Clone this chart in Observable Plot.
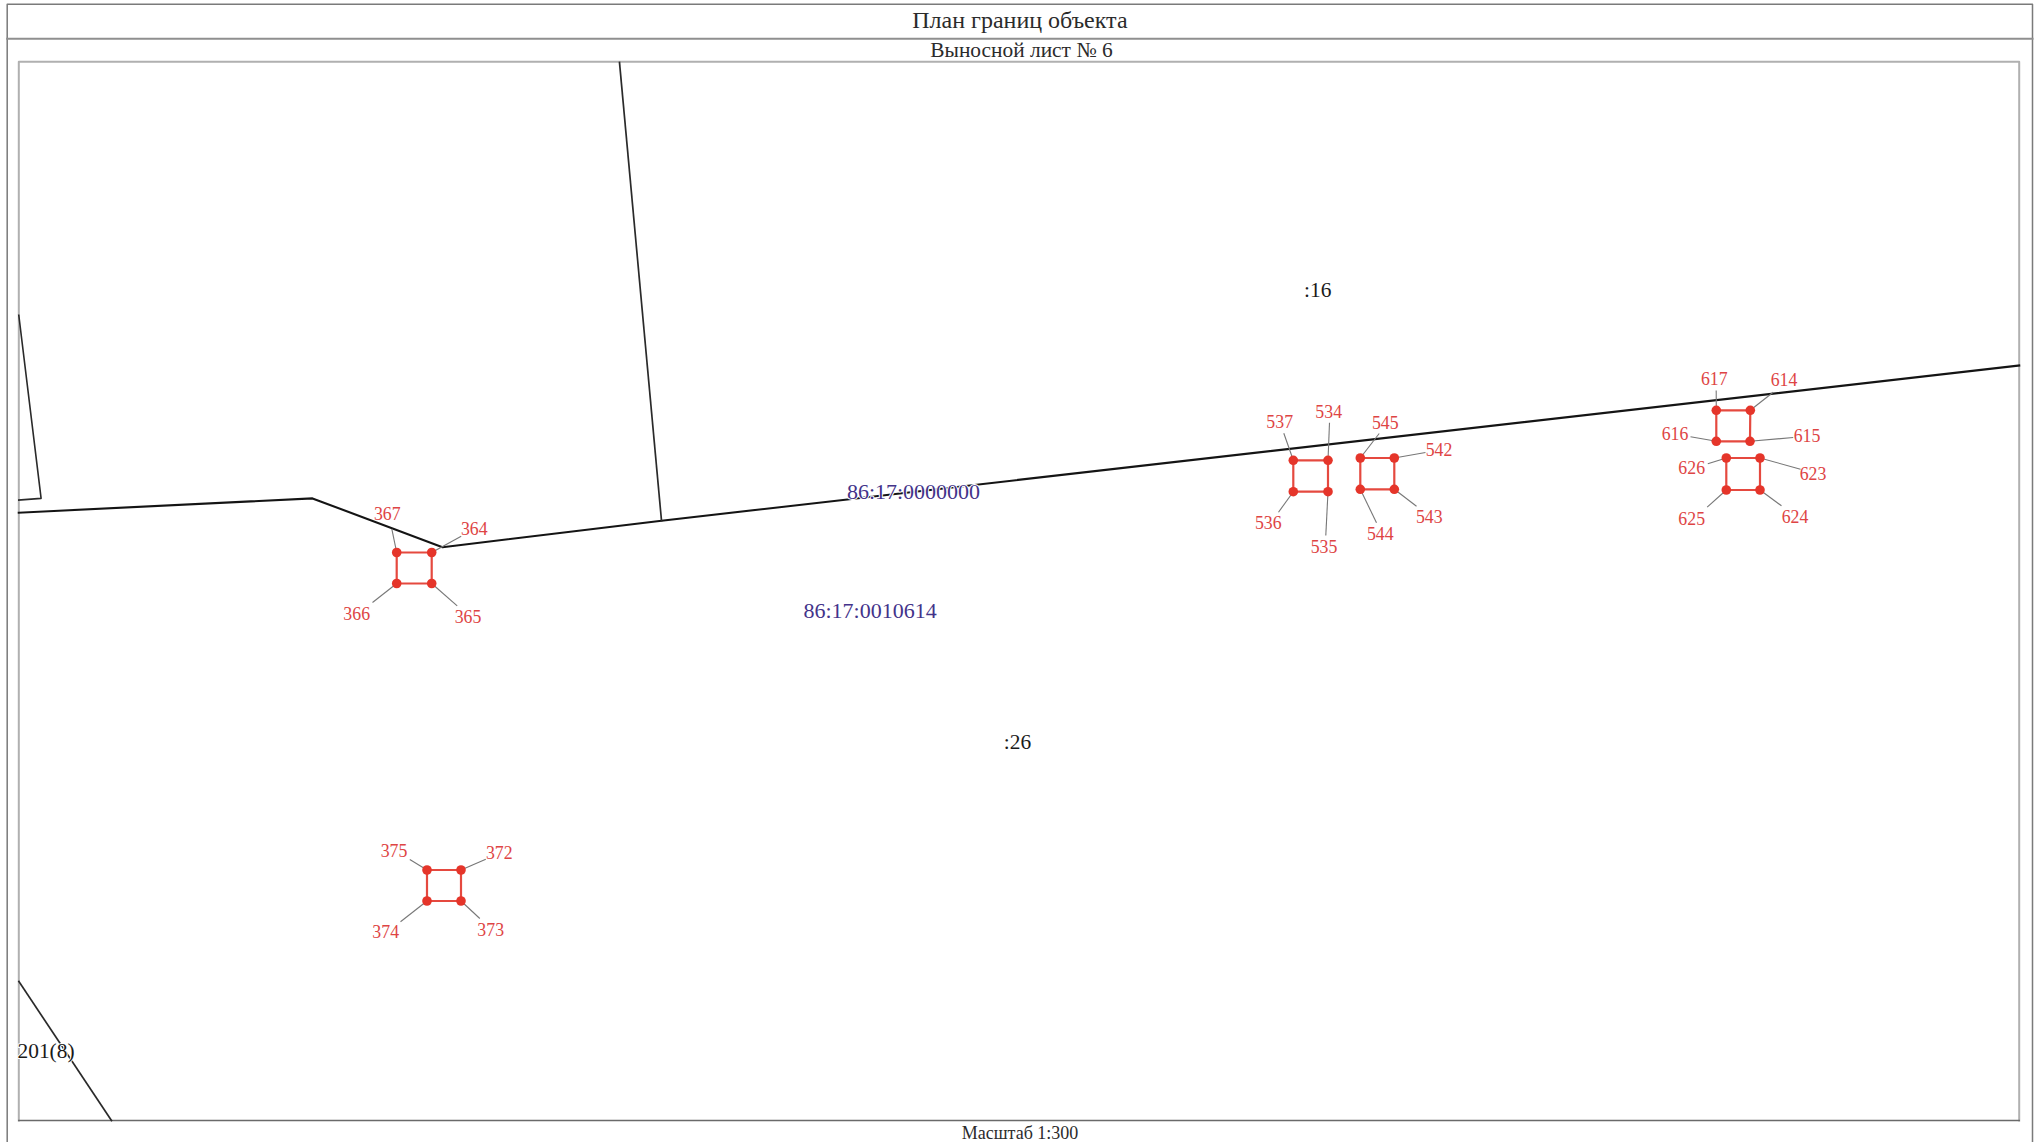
<!DOCTYPE html>
<html>
<head>
<meta charset="utf-8">
<style>html,body{margin:0;padding:0;background:#fff}svg{display:block}</style>
<script src="https://cdn.jsdelivr.net/npm/d3@7"></script>
<script src="https://cdn.jsdelivr.net/npm/@observablehq/plot@0.6"></script>
</head>
<body>
<script>
// Survey points: number, corner position, leader-line end, label position
const pointIds = [364,365,366,367, 372,373,374,375, 534,535,536,537, 542,543,544,545, 614,615,616,617, 623,624,625,626];
const cornerX  = [431.2,431.2,396.2,396.2, 460.5,460.5,426.5,426.5, 1327.5,1327.5,1292.8,1292.8, 1393.8,1393.8,1359.8,1359.8, 1749.8,1749.5,1715.8,1715.8, 1759.5,1759.5,1725.8,1725.8];
const cornerY  = [552,583,583,552, 869.5,900.5,900.5,869.5, 459.8,491.2,491.2,459.8, 457.5,488.8,488.8,457.5, 409.8,440.8,440.8,409.8, 457.5,489.5,489.5,457.5];
const leaderX  = [460.7,456.7,372,391.3, 485.3,479.3,400,409.3, 1329,1325.3,1278,1283.3, 1425,1416,1376,1378.7, 1772.7,1792.7,1690,1715.7, 1800,1781,1706.7,1707.3];
const leaderY  = [535.7,605.3,602,528.3, 858.7,918,921.3,859, 422.3,535,511.7,432.7, 452,505.7,522.3,433, 391.7,437,436.3,390, 468.7,505.3,506.7,463.3];
const labelX   = [473.8,467.5,356.2,386.8, 498.8,490.2,385.2,393.5, 1328.2,1323.5,1267.8,1279.2, 1438.5,1428.8,1379.8,1384.8, 1783.5,1806.5,1674.5,1713.8, 1812.5,1794.5,1691.2,1691.2];
const labelY   = [528.3,616.5,613.3,513.6, 852.4,929.4,931.3,850.8, 411.6,546.5,523,422, 449.5,517,534,422.3, 379.6,435.5,434,378.6, 473.3,516.6,518.6,467.3];

// Parcel boundaries
const boundaryMain   = {x:[18.3,312,442,661,2018.7], y:[512.2,497.9,546.7,520.2,365]};
const boundaryBranch = {x:[619,661], y:[61.9,520.2]};
const boundaryWest   = {x:[18.3,40.6,18.3], y:[314.8,497.9,499.6]};
const boundarySouth  = {x:[18.4,111], y:[981,1120]};

// Sheet frame
const outerFrame = {x:[6.7,6.7,2032,2032], y:[1142,3.7,3.7,1142]};
const titleRule  = {x:[6.7,2032], y:[38.3,38.3]};
const innerSides = {x:[18.3,18.3,2018.7,2018.7], y:[1120,61.3,61.3,1120]};
const innerFoot  = {x:[18.3,2018.7], y:[1120,1120]};

// Texts
const sheetTexts = ["План границ объекта","Выносной лист № 6","Масштаб 1:300"];
const sheetTextX = [1019.4,1021,1019.5];
const sheetTextY = [19.6,49.8,1132.5];
const sheetTextSize = [24,21.4,18];
const parcelNames = [":16",":26","201(8)"];
const parcelX = [1317.2,1017,45.5];
const parcelY = [290,741.7,1050.2];
const cadastreNames = ["86:17:0000000","86:17:0010614"];
const cadastreX = [913,869.6];
const cadastreY = [491.5,610.7];

const rows = o => o.x.map((x,i)=>({x,y:o.y[i]}));
const points = pointIds.map((id,i)=>({id,x:cornerX[i],y:cornerY[i],lx:leaderX[i],ly:leaderY[i],tx:labelX[i],ty:labelY[i],sq:Math.floor(i/4)}));
const rings = d3.range(pointIds.length/4).flatMap(s=>{
  const r = points.filter(p=>p.sq===s);
  return [...r, r[0]];
});
const path = (o,stroke,strokeWidth)=>Plot.line(rows(o),{x:"x",y:"y",stroke,strokeWidth,strokeLinecap:"square"});
const font = "Liberation Serif";

const chart = Plot.plot({
  width:2042, height:1142,
  margin:0,
  style:{background:"#fff",fontFamily:font},
  x:{domain:[0,2042],axis:null},
  y:{domain:[0,1142],reverse:true,axis:null},
  marks:[
    path(outerFrame,"#7a7a7a",1.5),
    path(titleRule,"#8f8f8f",2),
    path(innerSides,"#b0b0b0",2),
    path(innerFoot,"#6a6a6a",1.5),
    path(boundaryMain,"#141414",2.1),
    path(boundaryBranch,"#2a2a2a",1.7),
    path(boundaryWest,"#2a2a2a",1.6),
    path(boundarySouth,"#2a2a2a",1.7),
    Plot.link(points,{x1:"x",y1:"y",x2:"lx",y2:"ly",stroke:"#777",strokeWidth:1.1}),
    Plot.line(rings,{x:"x",y:"y",z:"sq",stroke:"#e5493f",strokeWidth:2.2}),
    Plot.dot(points,{x:"x",y:"y",r:4.8,fill:"#e5352a",stroke:"none"}),
    Plot.text(points,{x:"tx",y:"ty",text:d=>String(d.id),fill:"#de4444",fontSize:17.8,fontFamily:font}),
    Plot.text(parcelNames,{x:(d,i)=>parcelX[i],y:(d,i)=>parcelY[i],text:d=>d,fill:"#1a1a1a",fontSize:21.4,fontFamily:font,stroke:"#fff",strokeWidth:2}),
    Plot.text(cadastreNames,{x:(d,i)=>cadastreX[i],y:(d,i)=>cadastreY[i],text:d=>d,fill:"#43338a",fontSize:22,fontFamily:font,stroke:"#fff",strokeWidth:2}),
    Plot.text(sheetTexts,{x:(d,i)=>sheetTextX[i],y:(d,i)=>sheetTextY[i],text:d=>d,fill:"#2b2b2b",fontSize:(d,i)=>sheetTextSize[i],fontFamily:font})
  ]
});
document.body.appendChild(chart);
</script>
</body>
</html>
